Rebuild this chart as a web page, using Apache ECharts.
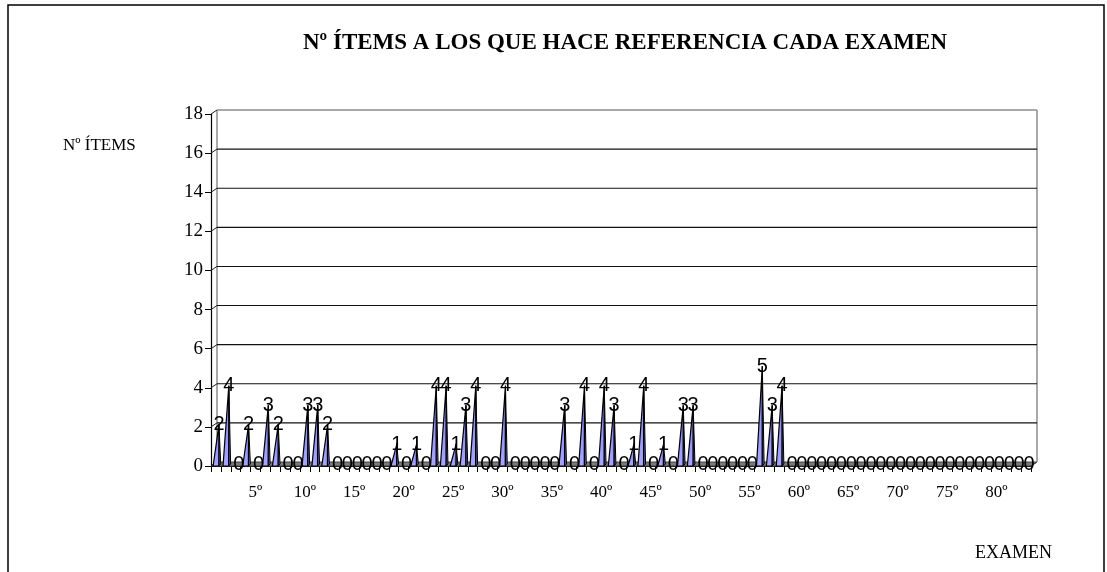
<!DOCTYPE html>
<html>
<head>
<meta charset="utf-8">
<script src="https://cdn.jsdelivr.net/npm/echarts@6/dist/echarts.min.js"></script>
<style>
  html, body { margin: 0; padding: 0; background: #fff; }
  #chart { width: 1107px; height: 572px; }
</style>
</head>
<body>
<div id="chart"></div>
<script>
// Exam numbers (category axis)
const examenes = [
  '1º','2º','3º','4º','5º','6º','7º','8º','9º','10º',
  '11º','12º','13º','14º','15º','16º','17º','18º','19º','20º',
  '21º','22º','23º','24º','25º','26º','27º','28º','29º','30º',
  '31º','32º','33º','34º','35º','36º','37º','38º','39º','40º',
  '41º','42º','43º','44º','45º','46º','47º','48º','49º','50º',
  '51º','52º','53º','54º','55º','56º','57º','58º','59º','60º',
  '61º','62º','63º','64º','65º','66º','67º','68º','69º','70º',
  '71º','72º','73º','74º','75º','76º','77º','78º','79º','80º',
  '81º','82º','83º'
];

// Number of items each exam refers to
const numItems = [
  2, 4, 0, 2, 0, 3, 2, 0, 0, 3,
  3, 2, 0, 0, 0, 0, 0, 0, 1, 0,
  1, 0, 4, 4, 1, 3, 4, 0, 0, 4,
  0, 0, 0, 0, 0, 3, 0, 4, 0, 4,
  3, 0, 1, 4, 0, 1, 0, 3, 3, 0,
  0, 0, 0, 0, 0, 5, 3, 4, 0, 0,
  0, 0, 0, 0, 0, 0, 0, 0, 0, 0,
  0, 0, 0, 0, 0, 0, 0, 0, 0, 0,
  0, 0, 0
];

// Value axis ticks
const yTicks = [0, 2, 4, 6, 8, 10, 12, 14, 16, 18];

// Depth offset of the 3D back wall
const DX = 6, DY = 4;

const SERIF = "'Liberation Serif', 'Times New Roman', serif";
const SANS = "'Liberation Sans', Arial, sans-serif";

const chart = echarts.init(document.getElementById('chart'), null, { renderer: 'canvas' });

// Walls: floor, left wall diagonals, back wall gridlines and border
function renderWalls(params, api) {
  const cs = params.coordSys;
  const x0 = cs.x, x1 = cs.x + cs.width;
  const v = api.value(1);
  const y = api.coord([0, v])[1];
  const children = [];
  const isTop = v === yTicks[yTicks.length - 1];
  if (v === 0) {
    // floor
    children.push({
      type: 'polygon',
      shape: { points: [[x0, y], [x1, y], [x1 + DX, y - DY], [x0 + DX, y - DY]] },
      style: { fill: '#7a7a7a', stroke: '#444', lineWidth: 1 }
    });
    // back wall left and right edges
    const yTop = api.coord([0, yTicks[yTicks.length - 1]])[1];
    children.push({
      type: 'line',
      shape: { x1: x0 + DX, y1: y - DY, x2: x0 + DX, y2: yTop - DY },
      style: { stroke: '#8c8c8c', lineWidth: 1.5 }
    });
    children.push({
      type: 'line',
      shape: { x1: x1 + DX, y1: y - DY, x2: x1 + DX, y2: yTop - DY },
      style: { stroke: '#8c8c8c', lineWidth: 1.5 }
    });
    children.push({
      type: 'line',
      shape: { x1: x1, y1: y, x2: x1 + DX, y2: y - DY },
      style: { stroke: '#444', lineWidth: 1 }
    });
  } else {
    children.push({
      type: 'line',
      shape: { x1: x0 + DX, y1: y - DY, x2: x1 + DX, y2: y - DY },
      style: { stroke: isTop ? '#8c8c8c' : '#111', lineWidth: isTop ? 1.5 : 1.1 }
    });
  }
  // diagonal on the side wall
  children.push({
    type: 'line',
    shape: { x1: x0, y1: y, x2: x0 + DX, y2: y - DY },
    style: { stroke: '#222', lineWidth: 1 }
  });
  return { type: 'group', children: children };
}

// Pyramid columns with their value labels at the apex
function renderPyramid(params, api) {
  const i = api.value(0);
  const v = api.value(1);
  const base = api.coord([i, 0]);
  const top = api.coord([i, v]);
  const cx = base[0], by = base[1];
  const w = 2.8;
  const ax = cx + DX / 2, ay = top[1] - DY / 2;
  const children = [];
  if (v > 0) {
    children.push({
      type: 'polygon',
      shape: { points: [[cx + w, by], [cx + w + 2, by - 2], [ax, ay]] },
      style: { fill: '#5a5ac8', stroke: '#000', lineWidth: 1 }
    });
    children.push({
      type: 'polygon',
      shape: { points: [[cx - w, by], [cx + w, by], [ax, ay]] },
      style: {
        fill: new echarts.graphic.LinearGradient(0, 0, 0, 1, [
          { offset: 0, color: '#7a7af0' },
          { offset: 1, color: '#a8a8ff' }
        ]),
        stroke: '#000', lineWidth: 1.2
      }
    });
  }
  children.push({
    type: 'text',
    z2: 10,
    style: {
      x: ax, y: ay,
      text: String(v),
      align: 'center', verticalAlign: 'middle',
      font: '20px ' + SANS,
      fill: '#000'
    }
  });
  return { type: 'group', children: children };
}

const option = {
  backgroundColor: '#ffffff',
  animation: false,
  title: [
    {
      text: 'Nº ÍTEMS A LOS QUE HACE REFERENCIA CADA EXAMEN',
      left: 303, top: 32, padding: 0,
      textStyle: { fontFamily: SERIF, fontSize: 23, fontWeight: 'bold', color: '#000' }
    },
    {
      text: 'Nº ÍTEMS',
      left: 63, top: 137, padding: 0,
      textStyle: { fontFamily: SERIF, fontSize: 17, fontWeight: 'normal', color: '#000' }
    },
    {
      text: 'EXAMEN',
      left: 975, top: 544, padding: 0,
      textStyle: { fontFamily: SERIF, fontSize: 18, fontWeight: 'normal', color: '#000' }
    }
  ],
  graphic: [
    {
      type: 'rect',
      shape: { x: 8, y: 5, width: 1096, height: 620 },
      style: { fill: 'none', stroke: '#000', lineWidth: 1.5 },
      silent: true
    }
  ],
  grid: { left: 211, right: 76, top: 114, bottom: 106, containLabel: false },
  xAxis: {
    type: 'category',
    data: examenes,
    boundaryGap: true,
    axisLine: { show: true, lineStyle: { color: '#000', width: 1.2 } },
    axisTick: { show: true, interval: 0, length: 6, lineStyle: { color: '#000' } },
    axisLabel: {
      interval: function (index) { return (index + 1) % 5 === 0; },
      margin: 18,
      fontFamily: SERIF, fontSize: 17, color: '#000'
    },
    splitLine: { show: false }
  },
  yAxis: {
    type: 'value',
    min: 0, max: 18, interval: 2,
    axisLine: { show: true, lineStyle: { color: '#000', width: 1.2 } },
    axisTick: { show: true, length: 6, lineStyle: { color: '#000' } },
    axisLabel: {
      margin: 8,
      fontFamily: SERIF, fontSize: 19, color: '#000',
      formatter: function (val) { return yTicks.indexOf(val) >= 0 ? String(val) : ''; }
    },
    splitLine: { show: false }
  },
  series: [
    {
      type: 'custom',
      name: 'walls',
      silent: true,
      z: 1,
      renderItem: renderWalls,
      data: yTicks.map(function (t) { return [0, t]; }),
      clip: false
    },
    {
      type: 'custom',
      name: 'Nº ÍTEMS',
      z: 5,
      renderItem: renderPyramid,
      data: numItems.map(function (v, i) { return [i, v]; }),
      clip: false
    }
  ]
};

chart.setOption(option);
</script>
</body>
</html>
